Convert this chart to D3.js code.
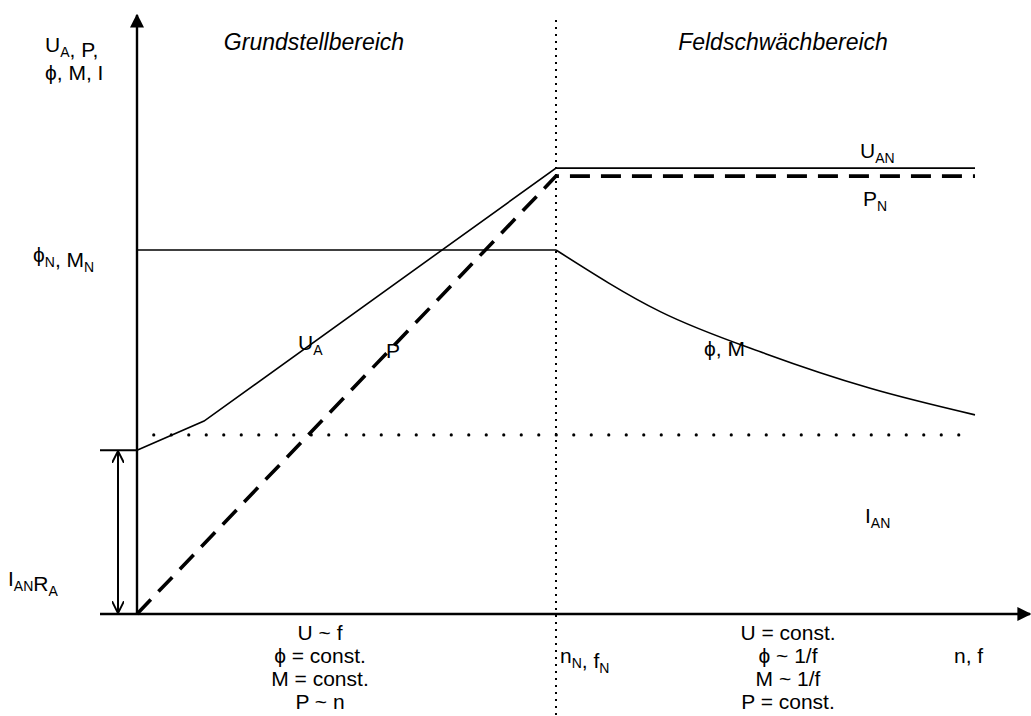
<!DOCTYPE html>
<html>
<head>
<meta charset="utf-8">
<script src="https://cdn.jsdelivr.net/npm/d3@7"></script>
<style>
  body { margin: 0; background: #fff; }
  svg { display: block; font-family: "Liberation Sans", Arial, sans-serif; }
  text { fill: #000; }
</style>
</head>
<body>
<div id="chart"></div>
<script>
// speed n (in units of n_N) and value (in units of phi_N)
const uaN = [0, 0.16, 1, 2]
const uaVal = [0.45, 0.53, 1.225, 1.225]

const pN = [0, 1, 2]
const pVal = [0, 1.203, 1.203]

const phiFlatN = [0, 1]
const phiFlatVal = [1, 1]
const phiN = [1, 1.25, 1.5, 1.75, 2]
const phiVal = [1, 0.83, 0.715, 0.62, 0.547]

const iANn = [0.04, 2]
const iANVal = 0.492

const regions = ['Grundstellbereich', 'Feldschwächbereich']
const leftRules = ['U ~ f', 'ϕ = const.', 'M = const.', 'P ~ n']
const rightRules = ['U = const.', 'ϕ ~ 1/f', 'M ~ 1/f', 'P = const.']

const width = 1031, height = 716
const x0 = 137, y0 = 614

const svg = d3.select('#chart').append('svg')
    .attr('width', width)
    .attr('height', height)

const x = d3.scaleLinear().domain([0, 1]).range([x0, 556])
const y = d3.scaleLinear().domain([0, 1]).range([y0, 250])

const line = d3.line()
    .x(d => x(d[0]))
    .y(d => y(d[1]))

const curve = d3.line()
    .x(d => x(d[0]))
    .y(d => y(d[1]))
    .curve(d3.curveMonotoneX)

// arrow markers
const defs = svg.append('defs')
defs.append('marker')
    .attr('id', 'tri')
    .attr('viewBox', '0 0 10 10')
    .attr('refX', 9).attr('refY', 5)
    .attr('markerWidth', 14).attr('markerHeight', 14)
    .attr('markerUnits', 'userSpaceOnUse')
    .attr('orient', 'auto')
    .append('path').attr('d', 'M0,0 L10,5 L0,10 Z').attr('fill', '#000')

defs.append('marker')
    .attr('id', 'vee')
    .attr('viewBox', '0 0 10 10')
    .attr('refX', 9).attr('refY', 5)
    .attr('markerWidth', 12).attr('markerHeight', 12)
    .attr('markerUnits', 'userSpaceOnUse')
    .attr('orient', 'auto-start-reverse')
    .append('path').attr('d', 'M0,0 L10,5 L0,10').attr('fill', 'none')
    .attr('stroke', '#000').attr('stroke-width', 1.6)

// axes
svg.append('line')
    .attr('x1', x0).attr('y1', y0).attr('x2', x0).attr('y2', 15)
    .attr('stroke', '#000').attr('stroke-width', 2.4)
    .attr('marker-end', 'url(#tri)')

svg.append('line')
    .attr('x1', 100).attr('y1', y0).attr('x2', 1030).attr('y2', y0)
    .attr('stroke', '#000').attr('stroke-width', 2.4)
    .attr('marker-end', 'url(#tri)')

// n_N divider
svg.append('line')
    .attr('x1', x(1)).attr('y1', 20).attr('x2', x(1)).attr('y2', height)
    .attr('stroke', '#000').attr('stroke-width', 2)
    .attr('stroke-dasharray', '2 5')

// I_AN dotted
svg.append('path')
    .attr('d', line(iANn.map(n => [n, iANVal])))
    .attr('fill', 'none').attr('stroke', '#000').attr('stroke-width', 3.2)
    .attr('stroke-linecap', 'round')
    .attr('stroke-dasharray', '0 17.5')

// I_AN * R_A bracket
svg.append('line')
    .attr('x1', 100).attr('y1', y(uaVal[0])).attr('x2', x0).attr('y2', y(uaVal[0]))
    .attr('stroke', '#000').attr('stroke-width', 2)
svg.append('line')
    .attr('x1', 118).attr('y1', y(uaVal[0]) + 2).attr('x2', 118).attr('y2', y0 - 2)
    .attr('stroke', '#000').attr('stroke-width', 2)
    .attr('marker-start', 'url(#vee)')
    .attr('marker-end', 'url(#vee)')

// phi, M
svg.append('path')
    .attr('d', line(phiFlatN.map((n, i) => [n, phiFlatVal[i]])))
    .attr('fill', 'none').attr('stroke', '#000').attr('stroke-width', 1.6)
svg.append('path')
    .attr('d', curve(phiN.map((n, i) => [n, phiVal[i]])))
    .attr('fill', 'none').attr('stroke', '#000').attr('stroke-width', 1.6)

// U_A
svg.append('path')
    .attr('d', line(uaN.map((n, i) => [n, uaVal[i]])))
    .attr('fill', 'none').attr('stroke', '#000').attr('stroke-width', 1.6)

// P
svg.append('path')
    .attr('d', line(pN.map((n, i) => [n, pVal[i]])))
    .attr('fill', 'none').attr('stroke', '#000').attr('stroke-width', 3.6)
    .attr('stroke-dasharray', '20 11')

// labels with subscripts
function label(xp, yp, parts, anchor) {
    const t = svg.append('text')
        .attr('x', xp).attr('y', yp)
        .attr('font-size', 21)
        .attr('text-anchor', anchor || 'start')
    parts.forEach(p => {
        if (Array.isArray(p)) {
            t.append('tspan').attr('dy', 5).attr('font-size', 14).text(p[0])
            t.append('tspan').attr('dy', -5).text('')
        } else {
            t.append('tspan').text(p)
        }
    })
    return t
}

label(45, 52, ['U', ['A'], ', P,'])
label(45, 80, ['ϕ, M, I'])
label(33, 262, ['ϕ', ['N'], ', M', ['N']])
label(8, 586, ['I', ['AN'], 'R', ['A']])
label(298, 350, ['U', ['A']])
label(386, 358, ['P'])
label(704, 356, ['ϕ, M'])
label(860, 158, ['U', ['AN']])
label(863, 206, ['P', ['N']])
label(865, 523, ['I', ['AN']])
label(560, 663, ['n', ['N'], ', f', ['N']])
label(954, 663, ['n, f'])

svg.selectAll('.region')
    .data(regions)
    .enter()
    .append('text')
    .attr('class', 'region')
    .attr('x', (d, i) => i === 0 ? 314 : 783)
    .attr('y', 50)
    .attr('text-anchor', 'middle')
    .attr('font-size', 23)
    .attr('font-style', 'italic')
    .text(d => d)

svg.selectAll('.lrule')
    .data(leftRules)
    .enter()
    .append('text')
    .attr('class', 'lrule')
    .attr('x', 320)
    .attr('y', (d, i) => 640 + i * 23)
    .attr('text-anchor', 'middle')
    .attr('font-size', 21)
    .text(d => d)

svg.selectAll('.rrule')
    .data(rightRules)
    .enter()
    .append('text')
    .attr('class', 'rrule')
    .attr('x', 788)
    .attr('y', (d, i) => 640 + i * 23)
    .attr('text-anchor', 'middle')
    .attr('font-size', 21)
    .text(d => d)
</script>
</body>
</html>
